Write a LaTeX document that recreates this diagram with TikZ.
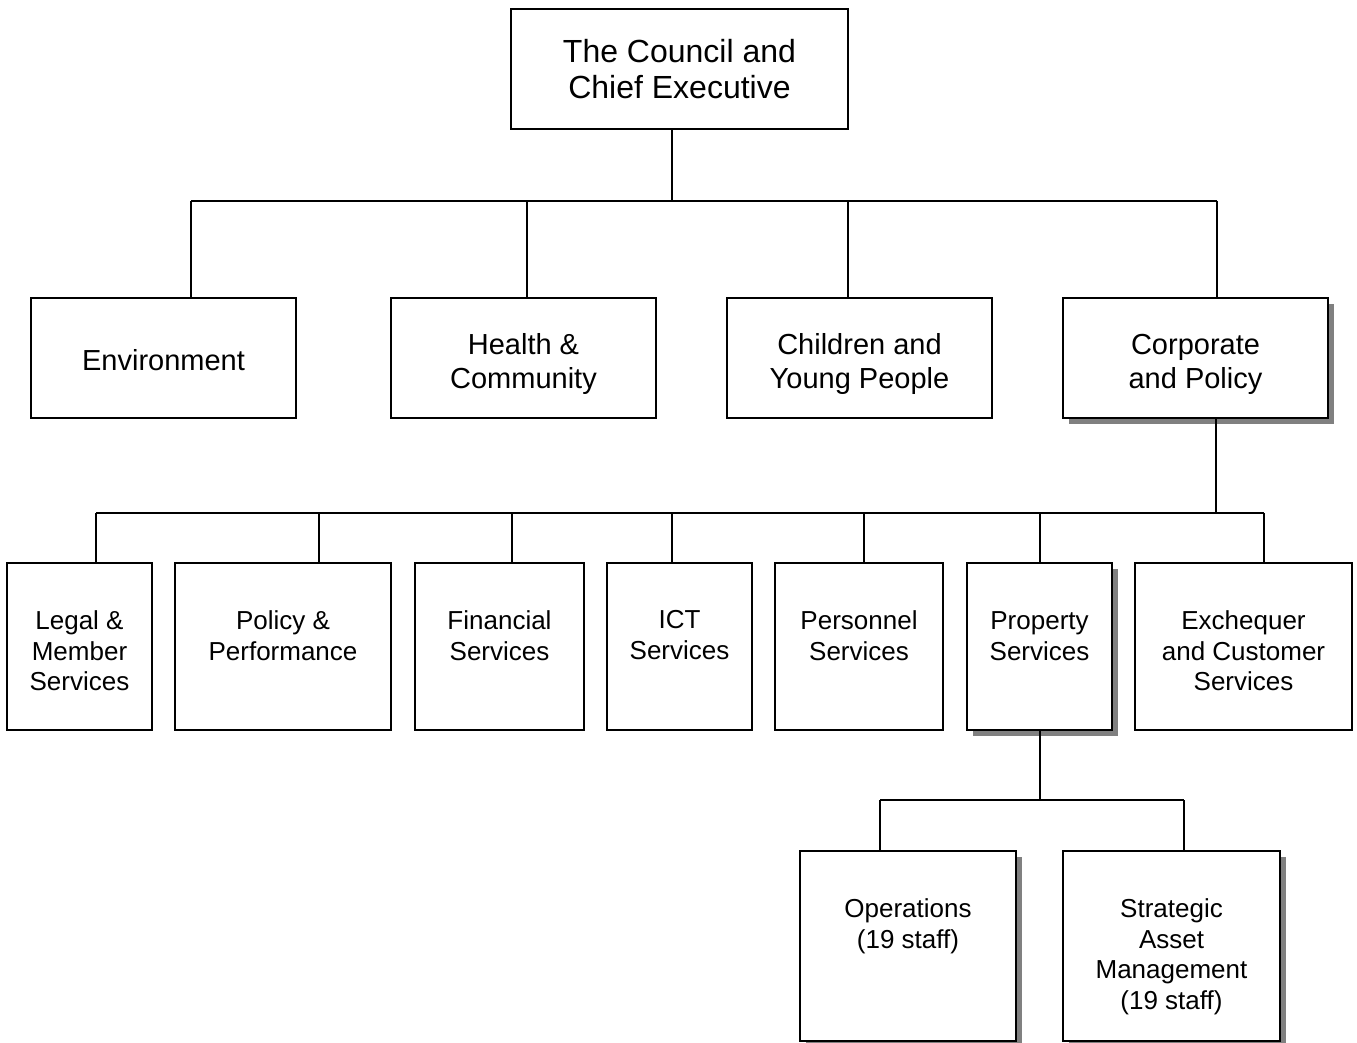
\documentclass[tikz,border=0pt]{standalone}
\usepackage{fontspec}
\setmainfont{Liberation Sans}
\usetikzlibrary{shadows}
\begin{document}
\begin{tikzpicture}[x=1pt,y=-1pt,
  box/.style={draw, line width=1.5pt, fill=white, inner sep=0pt},
  shd/.style={drop shadow={shadow xshift=6pt, shadow yshift=-6pt, fill=black!50, opacity=1}},
  conn/.style={line width=1.5pt},
  big/.style={font=\fontsize{32}{36}\selectfont, align=center},
  mid/.style={font=\fontsize{29}{34}\selectfont, align=center, inner sep=0pt},
  lbl/.style={font=\fontsize{26}{30.8}\selectfont, align=center, anchor=north, inner sep=0pt},
  l2/.style={box, minimum width=265pt, minimum height=120pt},
  l3/.style={box, minimum height=167pt},
  l4/.style={box, shd, minimum height=190pt}]
\useasboundingbox (0,0) rectangle (1357,1043);

% top
\node[box, big, minimum width=337pt, minimum height=120pt] (ceo) at (679.5,69) {The Council and\\Chief Executive};

% level 2
\node[l2] (env) at (163.5,358) {};
\node[l2] (hc)  at (523.5,358) {};
\node[l2] (cyp) at (859.5,358) {};
\node[l2, shd] (cp) at (1195.5,358) {};
\node[mid] (envt) at ([yshift=-2pt]env.center) {Environment};
\node[mid] (hct)  at ([yshift=-6pt]hc.center) {Health \&\\Community};
\node[mid] (cypt) at ([yshift=-6pt]cyp.center) {Children and\\Young People};
\node[mid] (cpt)  at ([yshift=-6pt]cp.center) {Corporate\\and Policy};

% level 3 boxes
\node[l3, minimum width=145pt] (legal) at (79.5,646.5) {};
\node[l3, minimum width=216pt] (pp)    at (283,646.5) {};
\node[l3, minimum width=169pt] (fin)   at (499.5,646.5) {};
\node[l3, minimum width=145pt] (ict)   at (679.5,646.5) {};
\node[l3, minimum width=168pt] (pers)  at (859,646.5) {};
\node[l3, shd, minimum width=145pt] (prop) at (1039.5,646.5) {};
\node[l3, minimum width=217pt] (exch)  at (1243.5,646.5) {};

\node[lbl] (legalt) at ([yshift=-48pt]legal.north) {Legal \&\\Member\\Services};
\node[lbl] (ppt)    at ([yshift=-48pt]pp.north) {Policy \&\\Performance};
\node[lbl] (fint)   at ([yshift=-48pt]fin.north) {Financial\\Services};
\node[lbl] (ictt)   at ([yshift=-48pt]ict.north) {ICT\\Services};
\node[lbl] (perst)  at ([yshift=-48pt]pers.north) {Personnel\\Services};
\node[lbl] (propt)  at ([yshift=-49pt]prop.north) {Property\\Services};
\node[lbl] (excht)  at ([yshift=-48pt]exch.north) {Exchequer\\and Customer\\Services};

% level 4
\node[l4, minimum width=216pt] (ops) at (908,946) {};
\node[l4, minimum width=217pt] (sam) at (1171.5,946) {};
\node[lbl] (opst) at ([yshift=-48pt]ops.north) {Operations\\(19 staff)};
\node[lbl] (samt) at ([yshift=-48pt]sam.north) {Strategic\\Asset\\Management\\(19 staff)};

% connectors level 1 -> 2
\coordinate (t0) at (672,201);
\coordinate (tA) at (191,201);
\coordinate (tB) at (527,201);
\coordinate (tC) at (848,201);
\coordinate (tD) at (1217,201);
\draw[conn] (ceo.south -| t0) -- (t0);
\draw[conn] (tA) -- (tD);
\draw[conn] (tA) -- (env.north -| tA);
\draw[conn] (tB) -- (hc.north -| tB);
\draw[conn] (tC) -- (cyp.north -| tC);
\draw[conn] (tD) -- (cp.north -| tD);

% connectors level 2 -> 3
\coordinate (m0) at (1216,513);
\coordinate (m1) at (96,513);
\coordinate (m2) at (319,513);
\coordinate (m3) at (512,513);
\coordinate (m4) at (672,513);
\coordinate (m5) at (864,513);
\coordinate (m6) at (1040,513);
\coordinate (m7) at (1264,513);
\draw[conn] (cp.south -| m0) -- (m0);
\draw[conn] (m1) -- (m7);
\draw[conn] (m1) -- (legal.north -| m1);
\draw[conn] (m2) -- (pp.north -| m2);
\draw[conn] (m3) -- (fin.north -| m3);
\draw[conn] (m4) -- (ict.north -| m4);
\draw[conn] (m5) -- (pers.north -| m5);
\draw[conn] (m6) -- (prop.north -| m6);
\draw[conn] (m7) -- (exch.north -| m7);

% connectors level 3 -> 4
\coordinate (p0) at (1040,800);
\coordinate (p1) at (880,800);
\coordinate (p2) at (1184,800);
\draw[conn] (prop.south -| p0) -- (p0);
\draw[conn] (p1) -- (p2);
\draw[conn] (p1) -- (ops.north -| p1);
\draw[conn] (p2) -- (sam.north -| p2);
\end{tikzpicture}
\end{document}
